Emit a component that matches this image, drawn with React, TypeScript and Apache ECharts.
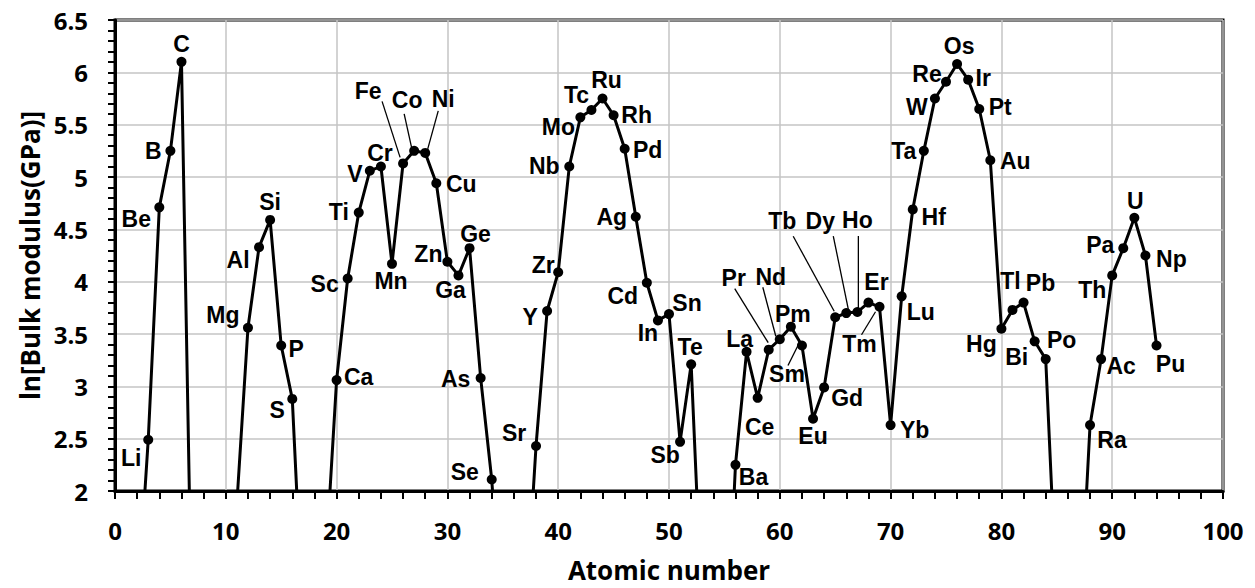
import React, { useEffect, useRef } from "react";
import * as echarts from "echarts";

// Element symbols (categories), their atomic numbers and ln(bulk modulus / GPa)
const elementSymbols = [
  "He", "Li", "Be", "B", "C", "N", "O", "F", "Ne", "Na",
  "Mg", "Al", "Si", "P", "S", "Cl", "Ar", "K", "Ca", "Sc",
  "Ti", "V", "Cr", "Mn", "Fe", "Co", "Ni", "Cu", "Zn", "Ga",
  "Ge", "As", "Se", "Br", "Kr", "Rb", "Sr", "Y", "Zr", "Nb",
  "Mo", "Tc", "Ru", "Rh", "Pd", "Ag", "Cd", "In", "Sn", "Sb",
  "Te", "I", "Xe", "Cs", "Ba", "La", "Ce", "Pr", "Nd", "Pm",
  "Sm", "Eu", "Gd", "Tb", "Dy", "Ho", "Er", "Tm", "Yb", "Lu",
  "Hf", "Ta", "W", "Re", "Os", "Ir", "Pt", "Au", "Hg", "Tl",
  "Pb", "Bi", "Po", "At", "Rn", "Fr", "Ra", "Ac", "Th", "Pa",
  "U", "Np", "Pu",
];

const atomicNumbers = [
  2, 3, 4, 5, 6, 7, 8, 9, 10, 11,
  12, 13, 14, 15, 16, 17, 18, 19, 20, 21,
  22, 23, 24, 25, 26, 27, 28, 29, 30, 31,
  32, 33, 34, 35, 36, 37, 38, 39, 40, 41,
  42, 43, 44, 45, 46, 47, 48, 49, 50, 51,
  52, 53, 54, 55, 56, 57, 58, 59, 60, 61,
  62, 63, 64, 65, 66, 67, 68, 69, 70, 71,
  72, 73, 74, 75, 76, 77, 78, 79, 80, 81,
  82, 83, 84, 85, 86, 87, 88, 89, 90, 91,
  92, 93, 94,
];

const lnBulkModulus = [
  0.86, 2.49, 4.71, 5.25, 6.1, 0.32, 0.6, 0.4, 0.1, 1.88,
  3.56, 4.33, 4.59, 3.39, 2.88, 0.68, 0.4, 1.29, 3.06, 4.03,
  4.66, 5.06, 5.1, 4.17, 5.13, 5.25, 5.23, 4.94, 4.19, 4.06,
  4.32, 3.08, 2.11, 0.6, 0.3, 0.71, 2.43, 3.72, 4.09, 5.1,
  5.57, 5.64, 5.75, 5.59, 5.27, 4.62, 3.99, 3.63, 3.69, 2.47,
  3.21, 0.79, 0.3, 0.0, 2.25, 3.33, 2.89, 3.35, 3.45, 3.57,
  3.39, 2.69, 2.99, 3.66, 3.7, 3.71, 3.8, 3.76, 2.63, 3.86,
  4.69, 5.25, 5.75, 5.91, 6.08, 5.93, 5.65, 5.16, 3.55, 3.73,
  3.8, 3.43, 3.26, 0.93, 0.3, 0.6, 2.63, 3.26, 4.06, 4.32,
  4.61, 4.25, 3.39,
];

const X_MIN = 0;
const X_MAX = 100;
const X_STEP = 10;
const Y_MIN = 2;
const Y_MAX = 6.5;
const Y_STEP = 0.5;

// Label placement (pixel offsets from the marker) - styling only
const LABEL_OFFSETS: Record<string, [number, number]> = {
  Li: [-17, 18], Be: [-23, 12], B: [-17, 0], C: [0, -18], Mg: [-25, -13],
  Al: [-21, 13], Si: [0, -18], P: [15, 3], S: [-15, 11], Ca: [22, -3],
  Sc: [-23, 5], Ti: [-20, -1], V: [-15, 3], Cr: [-1, -14], Mn: [-1, 17],
  Fe: [-35, -72], Co: [-7, -51], Ni: [18, -54], Cu: [25, 1], Zn: [-19, -8],
  Ga: [-8, 15], Ge: [6, -14], As: [-25, 1], Se: [-27, -7], Sr: [-22, -13],
  Y: [-17, 6], Zr: [-15, -7], Nb: [-25, -1], Mo: [-22, 10], Tc: [-15, -15],
  Ru: [4, -19], Rh: [23, 0], Pd: [23, 1], Ag: [-24, 0], Cd: [-24, 13],
  In: [-10, 13], Sn: [18, -11], Sb: [-15, 13], Te: [-1, -17], Ba: [18, 12],
  La: [-7, -13], Ce: [2, 29], Pr: [-35, -72], Nd: [-9, -62], Pm: [2, -13],
  Sm: [-15, 28], Eu: [0, 17], Gd: [23, 11], Tb: [-53, -96], Dy: [-26, -92],
  Ho: [0, -92], Er: [8, -21], Tm: [-20, 37], Yb: [24, 5], Lu: [19, 16],
  Hf: [21, 8], Ta: [-20, 0], W: [-18, 8], Re: [-19, -8], Os: [2, -18],
  Ir: [15, -2], Pt: [21, -2], Au: [25, 1], Hg: [-20, 15], Tl: [-2, -29],
  Pb: [17, -20], Bi: [-18, 16], Po: [16, -19], Ra: [22, 15], Ac: [20, 7],
  Th: [-20, 15], Pa: [-23, -3], U: [1, -17], Np: [26, 3], Pu: [14, 18],
};

// Leader lines: [nearX, nearY, farX, farY] pixel offsets from the marker
const LEADERS: Record<string, [number, number, number, number]> = {
  Fe: [-3, -6, -21, -62],
  Co: [-2.5, -3, -10, -37],
  Ni: [2.5, -4, 13, -42],
  Pr: [-0.5, -7, -34, -61],
  Nd: [-4, -3, -17, -52],
  Sm: [-3, -2, -14, 20],
  Tb: [-1, -6, -42, -81],
  Dy: [2, -4, -13, -77],
  Ho: [1, -4, 1, -76],
  Tm: [-4, 5, -18, 28],
};

export default function App() {
  const ref = useRef<HTMLDivElement>(null);

  useEffect(() => {
    if (!ref.current) return;
    const chart = echarts.init(ref.current, null, { renderer: "svg" });

    const points = elementSymbols.map((s, i) => ({
      name: s,
      value: [atomicNumbers[i], lnBulkModulus[i]],
      label: { show: lnBulkModulus[i] >= Y_MIN },
    }));

    const leaderKeys = Object.keys(LEADERS);
    const leaderData = leaderKeys.map((s) => {
      const i = elementSymbols.indexOf(s);
      return [atomicNumbers[i], lnBulkModulus[i]];
    });

    const tickFont = {
      fontFamily: "'Open Sans', sans-serif",
      fontWeight: "bold" as const,
      fontSize: 24,
      color: "#000",
    };
    const nameFont = {
      fontFamily: "'Open Sans', sans-serif",
      fontWeight: "bold" as const,
      fontSize: 26,
      color: "#000",
    };

    chart.setOption({
      animation: false,
      backgroundColor: "#fff",
      grid: {
        left: 115,
        right: 32,
        top: 20,
        bottom: 95,
        show: true,
        borderColor: "#000",
        borderWidth: 3,
        containLabel: false,
      },
      xAxis: {
        type: "value",
        min: X_MIN,
        max: X_MAX,
        interval: X_STEP,
        name: "Atomic number",
        nameLocation: "middle",
        nameGap: 66,
        nameTextStyle: nameFont,
        axisLine: { show: true, onZero: false, lineStyle: { color: "#000", width: 3 } },
        axisTick: { show: true, length: 8, lineStyle: { color: "#000", width: 2 } },
        minorTick: { show: true, splitNumber: 5, length: 8, lineStyle: { color: "#000", width: 2 } },
        splitLine: { show: true, lineStyle: { color: "#c4c4c4", width: 1.5 } },
        minorSplitLine: { show: false },
        axisLabel: { ...tickFont, margin: 27 },
      },
      yAxis: {
        type: "value",
        min: Y_MIN,
        max: Y_MAX,
        interval: Y_STEP,
        name: "ln[Bulk modulus(GPa)]",
        nameLocation: "middle",
        nameGap: 72,
        nameTextStyle: nameFont,
        axisLine: { show: true, onZero: false, lineStyle: { color: "#000", width: 3 } },
        axisTick: { show: true, length: 7, lineStyle: { color: "#000", width: 2 } },
        minorTick: { show: true, splitNumber: 5, length: 7, lineStyle: { color: "#000", width: 2 } },
        splitLine: { show: true, lineStyle: { color: "#c4c4c4", width: 1.5 } },
        axisLabel: { ...tickFont, margin: 27 },
      },
      series: [
        {
          type: "custom",
          silent: true,
          clip: false,
          z: 1,
          data: leaderData,
          renderItem: (params: any, api: any) => {
            const p = api.coord([api.value(0), api.value(1)]);
            const l = LEADERS[leaderKeys[params.dataIndex]];
            return {
              type: "line",
              shape: { x1: p[0] + l[0], y1: p[1] + l[1], x2: p[0] + l[2], y2: p[1] + l[3] },
              style: { stroke: "#000", lineWidth: 1.3 },
            };
          },
        },
        {
          type: "line",
          z: 3,
          clip: true,
          data: points,
          symbol: "circle",
          symbolSize: 10,
          showAllSymbol: true,
          lineStyle: { color: "#000", width: 3 },
          itemStyle: { color: "#000" },
          emphasis: { disabled: true },
          label: {
            show: true,
            position: "inside",
            formatter: "{b}",
            fontFamily: "'Liberation Sans', Arial, sans-serif",
            fontWeight: "bold",
            fontSize: 23,
            color: "#000",
            textBorderWidth: 0,
          },
          labelLayout: (params: any) => {
            const s = elementSymbols[params.dataIndex];
            const o = LABEL_OFFSETS[s] || [0, 0];
            return { dx: o[0], dy: o[1], hideOverlap: false };
          },
        },
      ],
    });

    return () => chart.dispose();
  }, []);

  return (
    <div
      ref={ref}
      style={{ position: "fixed", left: 0, top: 0, width: 1255, height: 588, background: "#fff" }}
    />
  );
}
